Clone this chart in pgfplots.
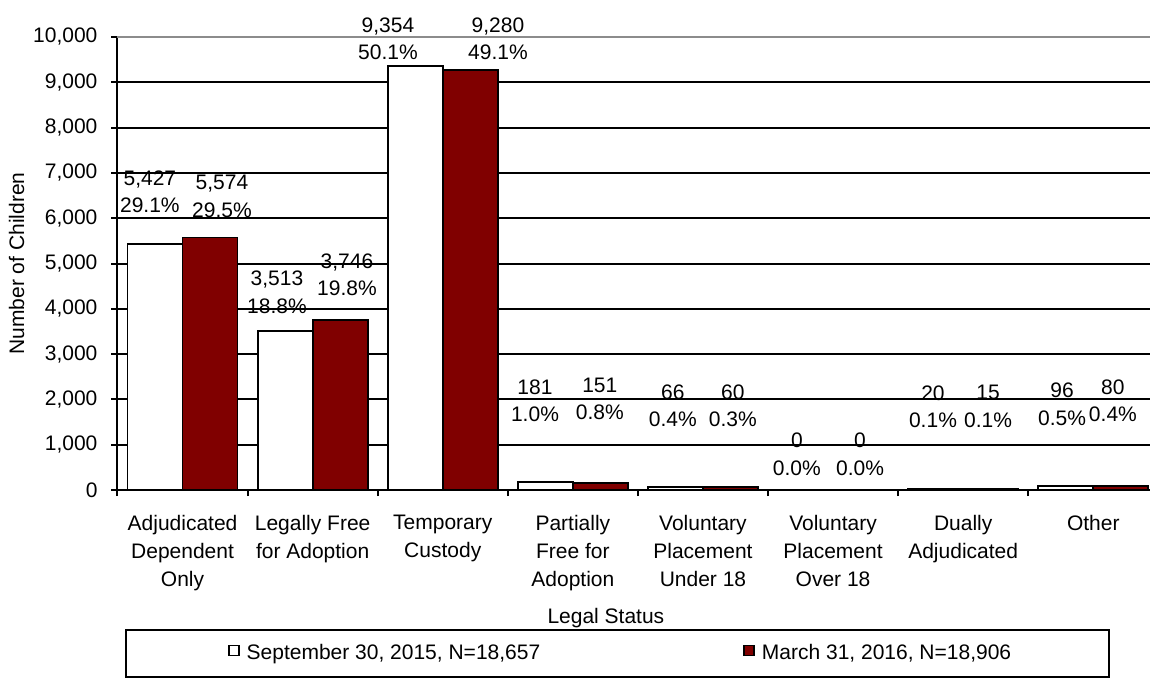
\documentclass[border=0pt]{standalone}
\usepackage{pgfplots}
\pgfplotsset{compat=1.18}
\usepackage{fontspec}
\setmainfont{Liberation Sans}
\definecolor{darkred}{RGB}{128,0,0}
\tikzset{lbl/.style={font=\fontsize{10.5}{13.75}\selectfont, align=center, anchor=center, inner sep=0pt}}
\pgfplotsset{sqlegend/.style={legend image code/.code={\path (0pt,0pt); \draw[##1, line width=0.75pt] (4pt,-1pt) rectangle (9pt,4pt);}}}
\begin{document}
\begin{tikzpicture}
\begin{axis}[
  scale only axis,
  width=516.25pt, height=226.5pt,
  xmin=-0.5, xmax=7.436,
  ymin=0, ymax=10000,
  clip=false,
  axis x line*=bottom, axis y line*=left,
  axis line style={line width=1pt, black},
  ybar=0pt, bar width=27.5pt,
  scaled y ticks=false,
  ytick={0,1000,...,9000},
  extra y ticks={10000},
  ymajorgrids,
  grid style={black, line width=1pt},
  tick align=outside,
  major tick length=3pt,
  tick style={black, line width=1pt},
  /pgf/number format/1000 sep={,},
  /pgf/number format/assume math mode=true,
  yticklabel style={font=\fontsize{10.5}{12}\selectfont, xshift=-3.5pt},
  xtick={-0.5,0.5,...,6.5},
  xticklabels={},
  extra x ticks={0,...,7},
  extra x tick labels={{Adjudicated\\Dependent\\Only},{Legally Free\\for Adoption},{Temporary\\Custody},{Partially\\Free for\\Adoption},{Voluntary\\Placement\\Under 18},{Voluntary\\Placement\\Over 18},{Dually\\Adjudicated},{Other}},
  extra x tick style={major tick length=0pt, tick style={draw=none},
    tick label style={font=\fontsize{10.5}{14}\selectfont, align=center, anchor=north, yshift=-9pt}},
  xlabel={Legal Status},
  xlabel style={at={(axis description cs:0.473,-0.283)}, anchor=center, font=\fontsize{10.5}{12}\selectfont},
  ylabel={Number of Children},
  ylabel style={at={(axis description cs:-0.0978,0.5)}, anchor=center, font=\fontsize{10.5}{12}\selectfont},
  legend columns=2,
  legend style={at={(axis description cs:0.00726,-0.3068)}, anchor=north west,
    draw=black, line width=1pt, inner xsep=47pt, inner ysep=5.25pt,
    font=\fontsize{10.5}{13}\selectfont,
    /tikz/every odd column/.style={column sep=1.5pt},
    /tikz/every even column/.style={column sep=95.5pt}},
]
\draw[gray!90, line width=1.2pt] (rel axis cs:0,1) -- (rel axis cs:1,1);
\addplot[fill=white, draw=black, line width=0.9pt, sqlegend]
  coordinates {(0,5427) (1,3513) (2,9354) (3,181) (4,66) (5,0) (6,20) (7,96)};
\addlegendentry{September 30, 2015, N=18,657}
\addplot[fill=darkred, draw=black, line width=0.9pt, sqlegend]
  coordinates {(0,5574) (1,3746) (2,9280) (3,151) (4,60) (5,0) (6,15) (7,80)};
\addlegendentry{March 31, 2016, N=18,906}

\node[lbl] at (axis cs:-0.251,6589) {5,427\\29.1\%};
\node[lbl] at (axis cs:0.303,6479) {5,574\\29.5\%};
\node[lbl] at (axis cs:0.726,4360) {3,513\\18.8\%};
\node[lbl] at (axis cs:1.264,4746) {3,746\\19.8\%};
\node[lbl] at (axis cs:1.579,9956) {9,354\\50.1\%};
\node[lbl] at (axis cs:2.424,9956) {9,280\\49.1\%};
\node[lbl] at (axis cs:2.709,1965) {181\\1.0\%};
\node[lbl] at (axis cs:3.207,2009) {151\\0.8\%};
\node[lbl] at (axis cs:3.769,1865) {66\\0.4\%};
\node[lbl] at (axis cs:4.230,1865) {60\\0.3\%};
\node[lbl] at (axis cs:4.722,784) {0\\0.0\%};
\node[lbl] at (axis cs:5.207,784) {0\\0.0\%};
\node[lbl] at (axis cs:5.768,1843) {20\\0.1\%};
\node[lbl] at (axis cs:6.191,1843) {15\\0.1\%};
\node[lbl] at (axis cs:6.760,1898) {96\\0.5\%};
\node[lbl] at (axis cs:7.151,1965) {80\\0.4\%};
\end{axis}
\pgfresetboundingbox
\path[use as bounding box] ([xshift=-58.75pt,yshift=-93.5pt]current axis.south west) rectangle ([yshift=18.5pt]current axis.north east);
\end{tikzpicture}
\end{document}
